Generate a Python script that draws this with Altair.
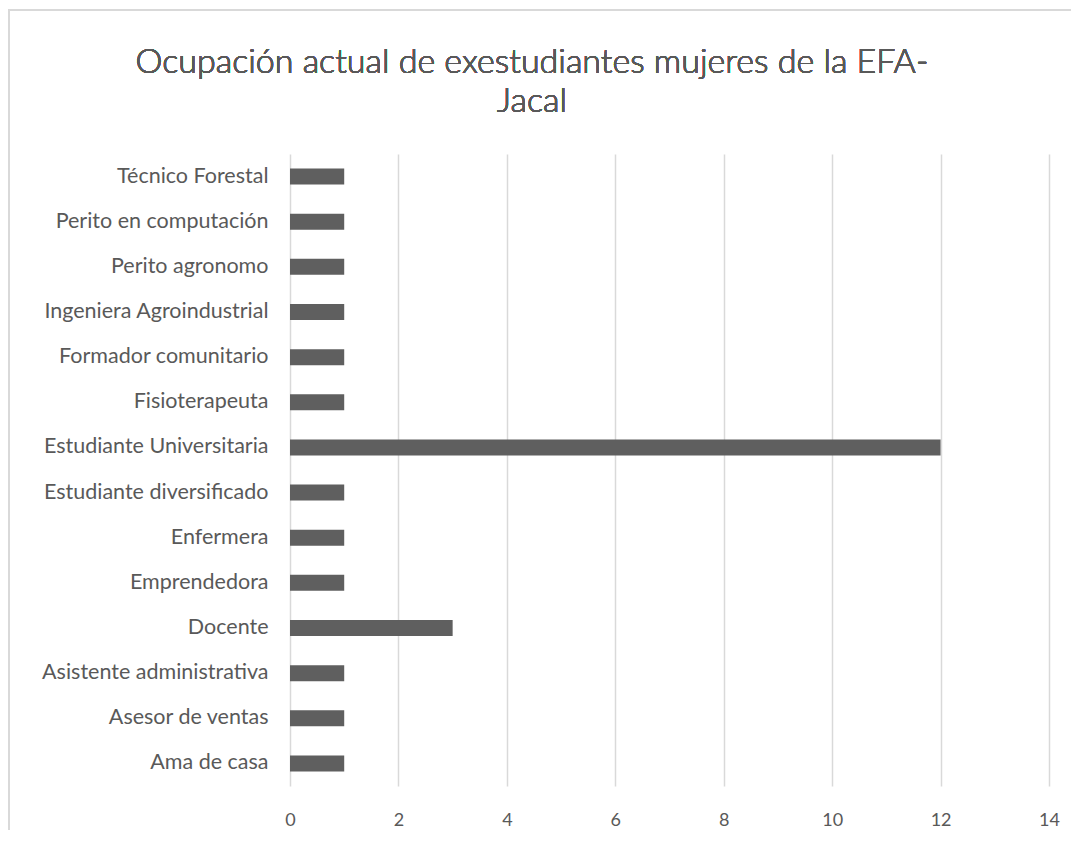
import altair as alt
import pandas as pd

categories = [
    "Técnico Forestal\u00a0",
    "Perito en computación",
    "Perito agronomo",
    "Ingeniera Agroindustrial",
    "Formador comunitario",
    "Fisioterapeuta",
    "Estudiante Universitaria",
    "Estudiante diversificado",
    "Enfermera",
    "Emprendedora",
    "Docente\u00a0",
    "Asistente administrativa\u00a0",
    "Asesor de ventas",
    "Ama de casa",
]
values = [1, 1, 1, 1, 1, 1, 12, 1, 1, 1, 3, 1, 1, 1]
x_ticks = [0, 2, 4, 6, 8, 10, 12, 14]
title_lines = ["Ocupación actual de exestudiantes mujeres de la EFA-", "Jacal"]

df = pd.DataFrame({"cat": categories, "val": values})

FONT = "Lato"
GRAY = "#595959"

bars = alt.Chart(df).mark_bar(height=16, color="#5f5f5f").encode(
    x=alt.X(
        "val:Q",
        scale=alt.Scale(domain=[0, 14], nice=False),
        axis=alt.Axis(
            values=x_ticks,
            title=None,
            domain=False,
            ticks=False,
            grid=True,
            gridColor="#d9d9d9",
            gridWidth=1.5,
            labelFont=FONT,
            labelFontSize=18,
            labelColor=GRAY,
            labelPadding=25,
            labelFlush=False,
        ),
    ),
    y=alt.Y(
        "cat:N",
        sort=categories,
        scale=alt.Scale(paddingInner=0, paddingOuter=0),
        axis=alt.Axis(
            title=None,
            domain=False,
            ticks=False,
            grid=False,
            labelFont=FONT,
            labelFontSize=21.5,
            labelColor=GRAY,
            labelPadding=22,
            labelLimit=0,
        ),
    ),
)

border = alt.Chart(df).mark_rect(
    fill=None, stroke="#d9d9d9", strokeWidth=1.5
).encode(
    x=alt.value(-281),
    x2=alt.value(1200),
    y=alt.value(-144),
    y2=alt.value(900),
)

title1 = alt.Chart(df).mark_text(
    font=FONT, fontSize=34, fontWeight=300, color=GRAY, align="center", baseline="middle"
).encode(x=alt.value(242), y=alt.value(-91), text=alt.value(title_lines[0]))

title2 = alt.Chart(df).mark_text(
    font=FONT, fontSize=34, fontWeight=300, color=GRAY, align="center", baseline="middle"
).encode(x=alt.value(242), y=alt.value(-52), text=alt.value(title_lines[1]))

chart = (
    alt.layer(border, bars, title1, title2)
    .properties(
        width=759,
        height=632,
        autosize=alt.AutoSizeParams(type="none"),
        padding={"left": 282, "top": 146, "right": 22, "bottom": 44},
    )
    .configure_view(stroke=None)
)

chart.save("out.html", embed_options={"renderer": "svg", "actions": False})
